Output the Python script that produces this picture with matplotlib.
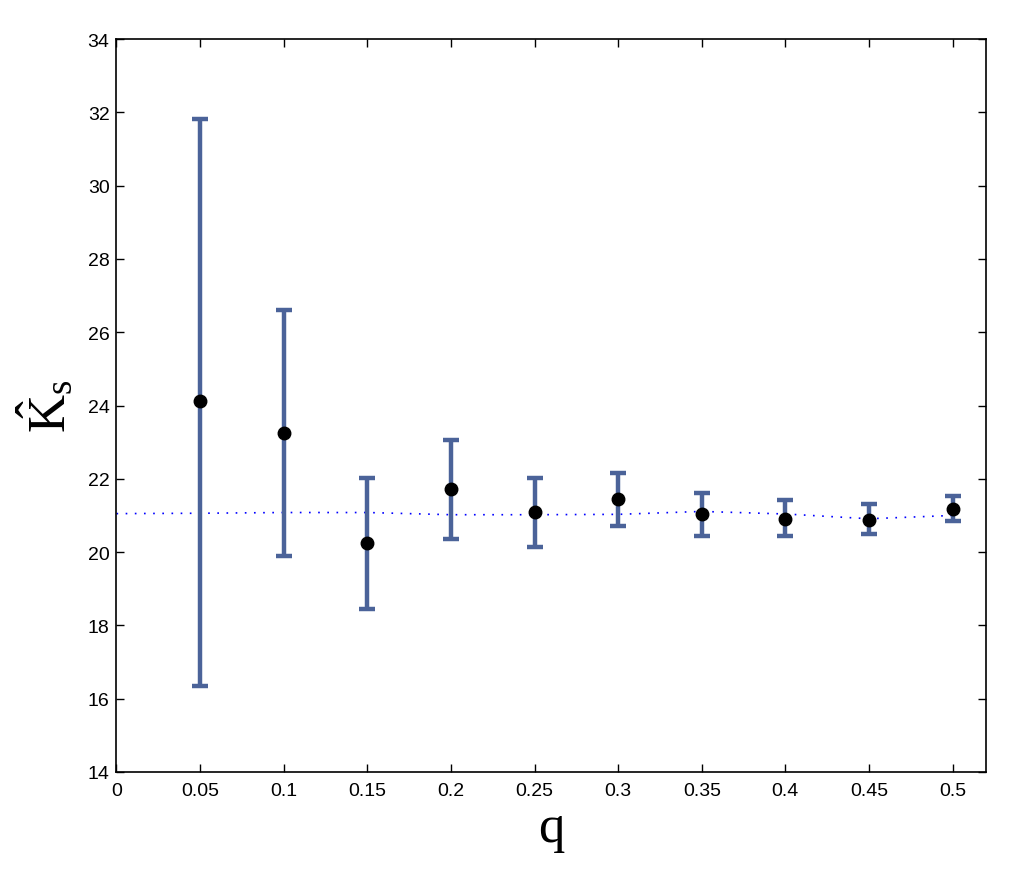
import matplotlib
matplotlib.use("Agg")
import matplotlib.pyplot as plt

# estimated K_s values per q, with error bar limits
q = [0.05, 0.10, 0.15, 0.20, 0.25, 0.30, 0.35, 0.40, 0.45, 0.50]
ks_mean = [24.11, 23.26, 20.24, 21.73, 21.09, 21.44, 21.05, 20.91, 20.87, 21.18]
ks_upper = [31.82, 26.61, 22.03, 23.05, 22.03, 22.16, 21.61, 21.41, 21.32, 21.53]
ks_lower = [16.36, 19.90, 18.46, 20.36, 20.15, 20.71, 20.45, 20.45, 20.50, 20.84]

# dotted reference curve
ref_q = [0.0, 0.05, 0.10, 0.15, 0.20, 0.25, 0.30, 0.35, 0.40, 0.45, 0.50]
ref_ks = [21.05, 21.06, 21.08, 21.08, 21.02, 21.02, 21.03, 21.11, 21.04, 20.91, 21.00]

x_ticks = [0, 0.05, 0.1, 0.15, 0.2, 0.25, 0.3, 0.35, 0.4, 0.45, 0.5]
x_ticklabels = ["0", "0.05", "0.1", "0.15", "0.2", "0.25", "0.3", "0.35", "0.4", "0.45", "0.5"]
y_ticks = list(range(14, 35, 2))

plt.rcParams["font.family"] = ["Liberation Sans", "DejaVu Sans"]
plt.rcParams["mathtext.fontset"] = "custom"
plt.rcParams["mathtext.rm"] = "Liberation Serif"
plt.rcParams["mathtext.it"] = "Liberation Serif:italic"

fig = plt.figure(figsize=(10.2, 8.7), dpi=100)
ax = fig.add_axes([0.1142, 0.1115, 0.8525, 0.8425])

ax.plot(ref_q, ref_ks, color="blue", linewidth=1.2, linestyle=(0, (1, 4.5)), zorder=1)

yerr = [[m - lo for m, lo in zip(ks_mean, ks_lower)],
        [hi - m for m, hi in zip(ks_mean, ks_upper)]]
ax.errorbar(q, ks_mean, yerr=yerr, fmt="none", ecolor="#4b6399",
            elinewidth=3.2, capsize=6, capthick=3.2, zorder=2)
ax.plot(q, ks_mean, "o", color="black", markersize=9, zorder=3)

ax.set_xlim(0, 0.52)
ax.set_ylim(14, 34)
ax.set_xticks(x_ticks)
ax.set_xticklabels(x_ticklabels)
ax.set_yticks(y_ticks)

ax.tick_params(direction="in", length=6, width=1, labelsize=14, pad=5,
               top=True, right=True)
ax.tick_params(axis="x", pad=7)
for s in ax.spines.values():
    s.set_linewidth(1.2)

ax.set_xlabel(r"$\mathrm{q}$", fontsize=38, labelpad=4)
ax.set_ylabel(r"$\hat{\mathrm{K}}_{\mathrm{s}}$", fontsize=38, labelpad=8)

fig.savefig("out.png", dpi=100)
